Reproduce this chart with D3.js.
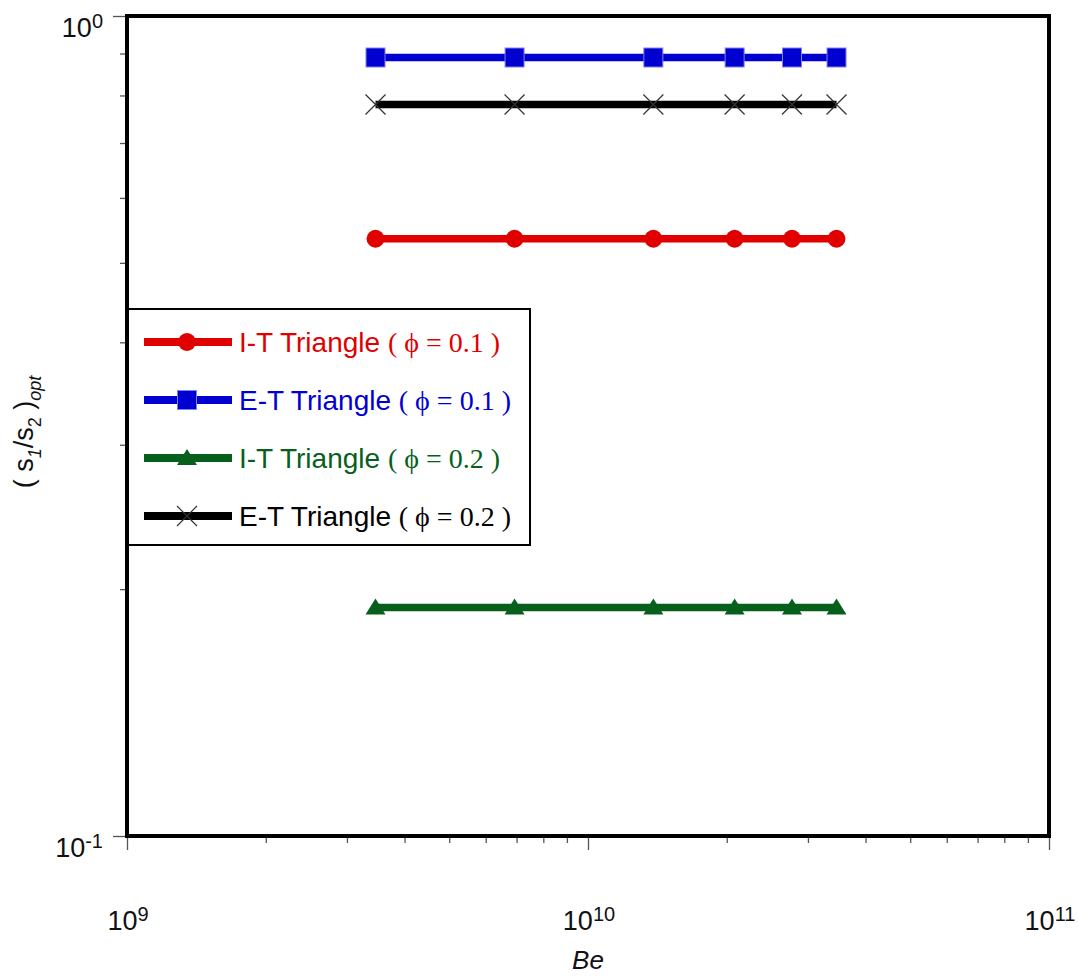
<!DOCTYPE html>
<html><head><meta charset="utf-8">
<script src="https://cdn.jsdelivr.net/npm/d3@7"></script>
<style>body{margin:0;background:#fff}svg{display:block}</style>
</head><body>
<svg id="c" width="1078" height="976"></svg>
<script>
const beValues = [3.46e9, 6.93e9, 1.386e10, 2.08e10, 2.77e10, 3.46e10];
const itPhi01 = [0.535, 0.535, 0.535, 0.535, 0.535, 0.535];
const etPhi01 = [0.89, 0.89, 0.89, 0.89, 0.89, 0.89];
const itPhi02 = [0.19, 0.19, 0.19, 0.19, 0.19, 0.19];
const etPhi02 = [0.78, 0.78, 0.78, 0.78, 0.78, 0.78];
const seriesNames = ["I-T Triangle", "E-T Triangle", "I-T Triangle", "E-T Triangle"];
const seriesPhi = ["0.1", "0.1", "0.2", "0.2"];
const xTickExp = [9, 10, 11];
const yTickExp = [0, -1];

const series = [
  {name: seriesNames[0], phi: seriesPhi[0], vals: itPhi01, color: "#e00000", marker: "circle"},
  {name: seriesNames[1], phi: seriesPhi[1], vals: etPhi01, color: "#0000d0", marker: "square"},
  {name: seriesNames[2], phi: seriesPhi[2], vals: itPhi02, color: "#06601b", marker: "triangle"},
  {name: seriesNames[3], phi: seriesPhi[3], vals: etPhi02, color: "#000000", marker: "x"}
];
const L = 127, R = 1049, T = 16, B = 836;
const svg = d3.select("#c");
const x = d3.scaleLog().domain([1e9, 1e11]).range([L, R]);
const y = d3.scaleLog().domain([0.1, 1]).range([B, T]);

const xMinor = [];
for (let e = 9; e < 11; e++) for (let k = 2; k <= 9; k++) xMinor.push(k * Math.pow(10, e));
const yMinor = [];
for (let k = 2; k <= 9; k++) yMinor.push(k * 0.1);

const gx = svg.append("g").attr("transform", `translate(0,${B})`);
gx.call(d3.axisBottom(x).tickValues(xMinor).tickSize(7).tickFormat(""))
  .call(g => g.select(".domain").remove());
gx.append("g").call(d3.axisBottom(x).tickValues(xTickExp.map(e => Math.pow(10, e))).tickSize(14).tickFormat(""))
  .call(g => g.select(".domain").remove());
gx.selectAll("line").attr("stroke", "#555").attr("stroke-width", 1.3);

const gy = svg.append("g").attr("transform", `translate(${L},0)`);
gy.call(d3.axisLeft(y).tickValues(yMinor).tickSize(7).tickFormat(""))
  .call(g => g.select(".domain").remove());
gy.append("g").call(d3.axisLeft(y).tickValues(yTickExp.map(e => Math.pow(10, e))).tickSize(14).tickFormat(""))
  .call(g => g.select(".domain").remove());
gy.selectAll("line").attr("stroke", "#555").attr("stroke-width", 1.3);

const lf = "Arial, 'Liberation Sans', sans-serif";
xTickExp.forEach(e => {
  const t = svg.append("text").attr("x", x(Math.pow(10, e)) + 1).attr("y", 930)
    .attr("text-anchor", "middle").attr("font-family", lf).attr("font-size", 27).attr("fill", "#111");
  t.append("tspan").text("10");
  t.append("tspan").attr("dy", -9).attr("font-size", 20).text(e);
});
yTickExp.forEach(e => {
  const t = svg.append("text").attr("x", 103).attr("y", y(Math.pow(10, e)) + 21)
    .attr("text-anchor", "end").attr("font-family", lf).attr("font-size", 27).attr("fill", "#111");
  t.append("tspan").text("10");
  t.append("tspan").attr("dy", -9).attr("font-size", 20).text(e);
});

svg.append("text").attr("x", x(1e10)).attr("y", 969).attr("text-anchor", "middle")
  .attr("font-family", lf).attr("font-size", 26).attr("font-style", "italic").attr("fill", "#111").text("Be");

const yl = svg.append("text").attr("transform", "translate(33,432) rotate(-90)")
  .attr("text-anchor", "middle").attr("font-family", lf).attr("font-size", 27).attr("fill", "#111");
yl.append("tspan").text("( s");
yl.append("tspan").attr("dy", 8).attr("font-size", 18).attr("font-style", "italic").text("1");
yl.append("tspan").attr("dy", -8).text("/s");
yl.append("tspan").attr("dy", 8).attr("font-size", 18).text("2");
yl.append("tspan").attr("dy", -8).text(" )");
yl.append("tspan").attr("dy", 8).attr("font-size", 18).attr("font-style", "italic").text("opt");

function drawMarker(g, type, cx, cy, color) {
  if (type === "circle") {
    g.append("circle").attr("cx", cx).attr("cy", cy).attr("r", 9).attr("fill", color);
  } else if (type === "square") {
    g.append("rect").attr("x", cx - 9.5).attr("y", cy - 9.5).attr("width", 19).attr("height", 19)
      .attr("fill", color).attr("stroke", "#8080f0").attr("stroke-width", 1);
  } else if (type === "triangle") {
    g.append("path").attr("d", `M${cx},${cy - 9}L${cx + 10},${cy + 7}L${cx - 10},${cy + 7}Z`).attr("fill", color);
  } else {
    g.append("path").attr("d", `M${cx - 10},${cy - 10}L${cx + 10},${cy + 10}M${cx + 10},${cy - 10}L${cx - 10},${cy + 10}`)
      .attr("stroke", "#333").attr("stroke-width", 1.2).attr("fill", "none");
  }
}

const plot = svg.append("g");
const line = d3.line().x(d => x(d[0])).y(d => y(d[1]));
series.forEach(s => {
  const pts = beValues.map((b, i) => [b, s.vals[i]]);
  const g = plot.append("g");
  g.append("path").attr("d", line(pts)).attr("stroke", s.color).attr("stroke-width", 7.5).attr("fill", "none");
  pts.forEach(p => drawMarker(g, s.marker, x(p[0]), y(p[1]), s.color));
});

svg.append("rect").attr("x", L).attr("y", T).attr("width", R - L).attr("height", B - T)
  .attr("fill", "none").attr("stroke", "#000").attr("stroke-width", 4);

const lg = svg.append("g");
lg.append("rect").attr("x", 128).attr("y", 309).attr("width", 402).attr("height", 236)
  .attr("fill", "#fff").attr("stroke", "#000").attr("stroke-width", 2);
const rowY = [342, 400, 458, 516];
series.forEach((s, i) => {
  const cy = rowY[i];
  lg.append("line").attr("x1", 144).attr("x2", 232).attr("y1", cy).attr("y2", cy)
    .attr("stroke", s.color).attr("stroke-width", 8);
  drawMarker(lg, s.marker, 187, cy, s.color);
  const t = lg.append("text").attr("x", 239).attr("y", cy + 10).attr("fill", s.color)
    .attr("font-family", lf).attr("font-size", 28);
  t.append("tspan").text(s.name + " ");
  t.append("tspan").attr("font-family", "'Liberation Serif', 'Times New Roman', serif").attr("font-size", 28)
    .text("( \u03d5 = " + s.phi + " )");
});
</script>
</body></html>
